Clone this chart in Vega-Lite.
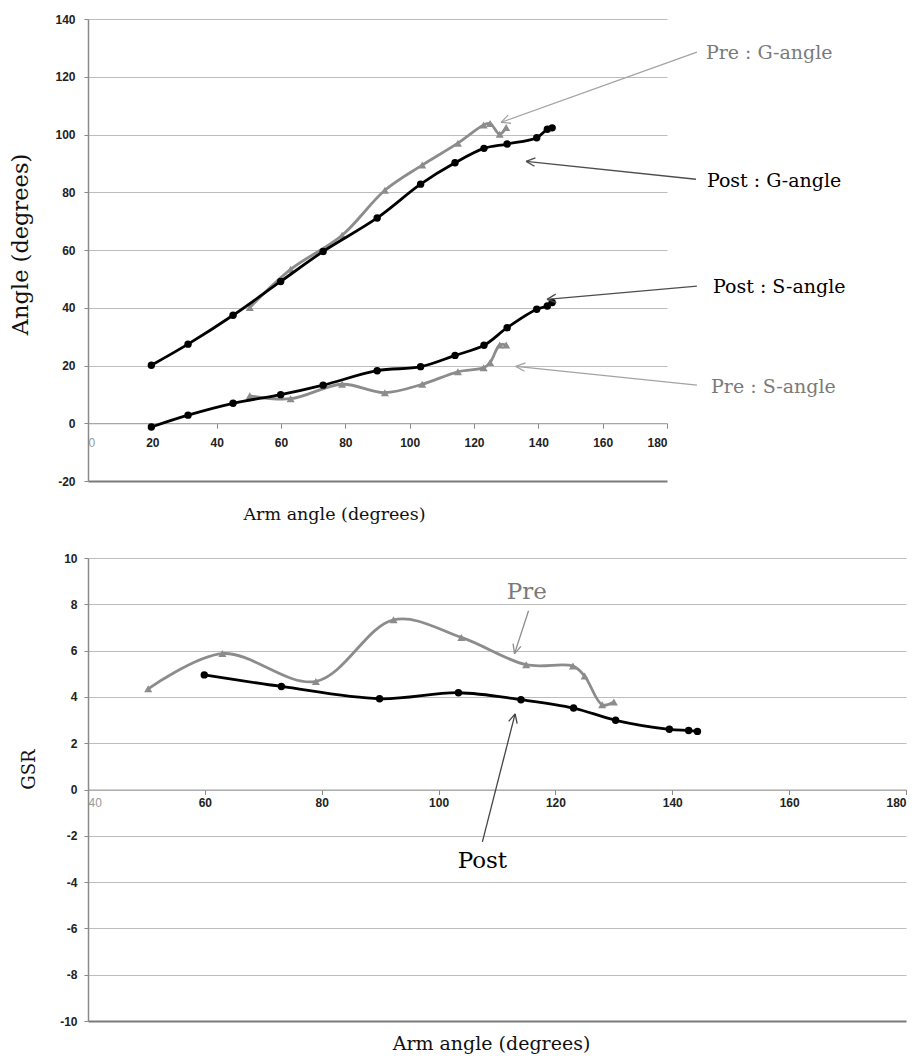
{
  "$schema": "https://vega.github.io/schema/vega-lite/v6.json",
  "padding": {"left": 9, "top": 13, "right": 5, "bottom": 5},
  "autosize": {"type": "pad"},
  "spacing": 29,
  "config": {
    "view": {"stroke": null},
    "axis": {
      "labelFont": "Liberation Sans",
      "labelFontSize": 12,
      "labelExpr": "'' + datum.value",
      "titleFont": "DejaVu Serif",
      "titleFontWeight": "normal",
      "titleColor": "#111",
      "domainColor": "#8a8a8a",
      "tickColor": "#8a8a8a"
    }
  },
  "datasets": {
    "angles": [
      {"x": 19.7, "y": 20.1, "series": "Post G", "phase": "Post"},
      {"x": 31.1, "y": 27.4, "series": "Post G", "phase": "Post"},
      {"x": 45.1, "y": 37.4, "series": "Post G", "phase": "Post"},
      {"x": 59.9, "y": 49.1, "series": "Post G", "phase": "Post"},
      {"x": 73.1, "y": 59.5, "series": "Post G", "phase": "Post"},
      {"x": 89.9, "y": 71.1, "series": "Post G", "phase": "Post"},
      {"x": 103.4, "y": 82.8, "series": "Post G", "phase": "Post"},
      {"x": 114.1, "y": 90.2, "series": "Post G", "phase": "Post"},
      {"x": 123.1, "y": 95.2, "series": "Post G", "phase": "Post"},
      {"x": 130.3, "y": 96.7, "series": "Post G", "phase": "Post"},
      {"x": 139.5, "y": 98.9, "series": "Post G", "phase": "Post"},
      {"x": 142.8, "y": 101.8, "series": "Post G", "phase": "Post"},
      {"x": 144.3, "y": 102.3, "series": "Post G", "phase": "Post"},
      {"x": 19.7, "y": -1.3, "series": "Post S", "phase": "Post"},
      {"x": 31.1, "y": 2.8, "series": "Post S", "phase": "Post"},
      {"x": 45.1, "y": 6.9, "series": "Post S", "phase": "Post"},
      {"x": 59.9, "y": 9.9, "series": "Post S", "phase": "Post"},
      {"x": 73.1, "y": 13.2, "series": "Post S", "phase": "Post"},
      {"x": 89.9, "y": 18.2, "series": "Post S", "phase": "Post"},
      {"x": 103.4, "y": 19.6, "series": "Post S", "phase": "Post"},
      {"x": 114.1, "y": 23.5, "series": "Post S", "phase": "Post"},
      {"x": 123.1, "y": 27.0, "series": "Post S", "phase": "Post"},
      {"x": 130.3, "y": 33.1, "series": "Post S", "phase": "Post"},
      {"x": 139.5, "y": 39.5, "series": "Post S", "phase": "Post"},
      {"x": 142.8, "y": 40.6, "series": "Post S", "phase": "Post"},
      {"x": 144.3, "y": 41.8, "series": "Post S", "phase": "Post"},
      {"x": 50.3, "y": 40.1, "series": "Pre G", "phase": "Pre"},
      {"x": 63.0, "y": 53.3, "series": "Pre G", "phase": "Pre"},
      {"x": 79.0, "y": 65.1, "series": "Pre G", "phase": "Pre"},
      {"x": 92.3, "y": 80.7, "series": "Pre G", "phase": "Pre"},
      {"x": 103.9, "y": 89.4, "series": "Pre G", "phase": "Pre"},
      {"x": 115.0, "y": 97.0, "series": "Pre G", "phase": "Pre"},
      {"x": 123.0, "y": 103.3, "series": "Pre G", "phase": "Pre"},
      {"x": 125.0, "y": 103.8, "series": "Pre G", "phase": "Pre"},
      {"x": 128.0, "y": 100.1, "series": "Pre G", "phase": "Pre"},
      {"x": 130.0, "y": 102.4, "series": "Pre G", "phase": "Pre"},
      {"x": 50.3, "y": 9.5, "series": "Pre S", "phase": "Pre"},
      {"x": 63.0, "y": 8.5, "series": "Pre S", "phase": "Pre"},
      {"x": 79.0, "y": 13.5, "series": "Pre S", "phase": "Pre"},
      {"x": 92.3, "y": 10.6, "series": "Pre S", "phase": "Pre"},
      {"x": 103.9, "y": 13.5, "series": "Pre S", "phase": "Pre"},
      {"x": 115.0, "y": 17.8, "series": "Pre S", "phase": "Pre"},
      {"x": 123.0, "y": 19.2, "series": "Pre S", "phase": "Pre"},
      {"x": 125.0, "y": 21.0, "series": "Pre S", "phase": "Pre"},
      {"x": 128.0, "y": 27.1, "series": "Pre S", "phase": "Pre"},
      {"x": 130.0, "y": 27.1, "series": "Pre S", "phase": "Pre"}
    ],
    "gsr": [
      {"x": 50.3, "y": 4.35, "phase": "Pre"},
      {"x": 63.0, "y": 5.87, "phase": "Pre"},
      {"x": 79.0, "y": 4.67, "phase": "Pre"},
      {"x": 92.3, "y": 7.33, "phase": "Pre"},
      {"x": 103.9, "y": 6.57, "phase": "Pre"},
      {"x": 115.0, "y": 5.39, "phase": "Pre"},
      {"x": 123.0, "y": 5.33, "phase": "Pre"},
      {"x": 125.0, "y": 4.9, "phase": "Pre"},
      {"x": 128.0, "y": 3.66, "phase": "Pre"},
      {"x": 130.0, "y": 3.78, "phase": "Pre"},
      {"x": 59.9, "y": 4.95, "phase": "Post"},
      {"x": 73.1, "y": 4.45, "phase": "Post"},
      {"x": 89.9, "y": 3.92, "phase": "Post"},
      {"x": 103.4, "y": 4.18, "phase": "Post"},
      {"x": 114.1, "y": 3.88, "phase": "Post"},
      {"x": 123.1, "y": 3.52, "phase": "Post"},
      {"x": 130.3, "y": 2.99, "phase": "Post"},
      {"x": 139.5, "y": 2.6, "phase": "Post"},
      {"x": 142.8, "y": 2.55, "phase": "Post"},
      {"x": 144.3, "y": 2.51, "phase": "Post"}
    ],
    "arrowsTop": [
      {"x": 189.3, "y": 128.5, "x2": 128.4, "y2": 104.2, "phase": "Pre"},
      {"x": 128.4, "y": 104.2, "x2": 131.5, "y2": 103.9, "phase": "Pre"},
      {"x": 128.4, "y": 104.2, "x2": 130.6, "y2": 106.7, "phase": "Pre"},
      {"x": 189.0, "y": 84.5, "x2": 136.2, "y2": 90.7, "phase": "Post"},
      {"x": 136.2, "y": 90.7, "x2": 138.8, "y2": 89.0, "phase": "Post"},
      {"x": 136.2, "y": 90.7, "x2": 139.1, "y2": 91.9, "phase": "Post"},
      {"x": 189.3, "y": 47.5, "x2": 142.7, "y2": 42.9, "phase": "Post"},
      {"x": 142.7, "y": 42.9, "x2": 145.6, "y2": 41.8, "phase": "Post"},
      {"x": 142.7, "y": 42.9, "x2": 145.4, "y2": 44.7, "phase": "Post"},
      {"x": 189.3, "y": 13.2, "x2": 133.0, "y2": 19.7, "phase": "Pre"},
      {"x": 133.0, "y": 19.7, "x2": 135.7, "y2": 18.0, "phase": "Pre"},
      {"x": 133.0, "y": 19.7, "x2": 136.0, "y2": 20.9, "phase": "Pre"}
    ],
    "labelsTop": [
      {"x": 192.1, "y": 128.1, "text": "Pre : G-angle", "phase": "Pre"},
      {"x": 192.4, "y": 83.8, "text": "Post : G-angle", "phase": "Post"},
      {"x": 194.3, "y": 47.1, "text": "Post : S-angle", "phase": "Post"},
      {"x": 193.7, "y": 12.5, "text": "Pre : S-angle", "phase": "Pre"}
    ],
    "arrowsBottom": [
      {"x": 115.4, "y": 7.72, "x2": 113.0, "y2": 5.87, "phase": "Pre"},
      {"x": 113.0, "y": 5.87, "x2": 114.1, "y2": 6.18, "phase": "Pre"},
      {"x": 113.0, "y": 5.87, "x2": 112.75, "y2": 6.3, "phase": "Pre"},
      {"x": 107.5, "y": -2.26, "x2": 113.1, "y2": 3.27, "phase": "Post"},
      {"x": 113.1, "y": 3.27, "x2": 112.0, "y2": 2.94, "phase": "Post"},
      {"x": 113.1, "y": 3.27, "x2": 113.45, "y2": 2.85, "phase": "Post"}
    ],
    "labelsBottom": [
      {"x": 115.1, "y": 8.54, "text": "Pre", "phase": "Pre"},
      {"x": 107.5, "y": -3.11, "text": "Post", "phase": "Post"}
    ]
  },
  "vconcat": [
    {
      "width": 579,
      "height": 462,
      "encoding": {
        "x": {
          "field": "x", "type": "quantitative",
          "scale": {"domain": [0, 180], "nice": false, "zero": false},
          "axis": {
            "values": [0, 20, 40, 60, 80, 100, 120, 140, 160, 180],
            "offset": -57.75, "grid": false, "tickSize": 5, "labelPadding": 9,
            "domainColor": "#a0a0a0",
            "labelColor": {"condition": {"test": "datum.value == 0", "value": "#999"}, "value": "#222"},
            "labelFontWeight": {"condition": {"test": "datum.value == 0", "value": "normal"}, "value": "bold"},
            "title": "Arm angle (degrees)", "titleFontSize": 17.5,
            "titleX": 246, "titleY": 91, "titleBaseline": "middle"
          }
        },
        "y": {
          "field": "y", "type": "quantitative",
          "scale": {"domain": [-20, 140], "nice": false, "zero": false},
          "axis": {
            "values": [-20, 0, 20, 40, 60, 80, 100, 120, 140],
            "tickSize": 4, "labelPadding": 9, "labelFontWeight": "bold", "labelColor": "#222",
            "domainWidth": 1.5,
            "grid": true,
            "gridColor": {"condition": {"test": "datum.value == -20", "value": "#7a7a7a"}, "value": "#bdbdbd"},
            "gridWidth": {"condition": {"test": "datum.value == -20", "value": 2}, "value": 1.2},
            "title": "Angle (degrees)", "titleFontSize": 22.5,
            "titleX": -68, "titleY": 225, "titleBaseline": "middle", "titleAngle": -90
          }
        }
      },
      "layer": [
        {
          "data": {"name": "angles"},
          "transform": [{"filter": "datum.phase === 'Pre'"}],
          "mark": {"type": "line", "interpolate": "catmull-rom", "color": "#8c8c8c", "strokeWidth": 2.8},
          "encoding": {"detail": {"field": "series"}}
        },
        {
          "data": {"name": "angles"},
          "transform": [{"filter": "datum.phase === 'Pre'"}],
          "mark": {"type": "point", "shape": "triangle-up", "filled": true, "color": "#8c8c8c", "size": 65, "opacity": 1},
          "encoding": {}
        },
        {
          "data": {"name": "angles"},
          "transform": [{"filter": "datum.phase === 'Post'"}],
          "mark": {"type": "line", "interpolate": "catmull-rom", "color": "#000000", "strokeWidth": 2.8},
          "encoding": {"detail": {"field": "series"}}
        },
        {
          "data": {"name": "angles"},
          "transform": [{"filter": "datum.phase === 'Post'"}],
          "mark": {"type": "point", "shape": "circle", "filled": true, "color": "#000000", "size": 55, "opacity": 1},
          "encoding": {}
        },
        {
          "data": {"name": "arrowsTop"},
          "transform": [{"filter": "datum.phase === 'Pre'"}],
          "mark": {"type": "rule", "color": "#a3a3a3", "strokeWidth": 1.3},
          "encoding": {"x2": {"field": "x2"}, "y2": {"field": "y2"}}
        },
        {
          "data": {"name": "arrowsTop"},
          "transform": [{"filter": "datum.phase === 'Post'"}],
          "mark": {"type": "rule", "color": "#4d4d4d", "strokeWidth": 1.3},
          "encoding": {"x2": {"field": "x2"}, "y2": {"field": "y2"}}
        },
        {
          "data": {"name": "labelsTop"},
          "transform": [{"filter": "datum.phase === 'Pre'"}],
          "mark": {"type": "text", "align": "left", "baseline": "middle", "font": "DejaVu Serif", "fontSize": 19, "color": "#7a7a7a"},
          "encoding": {"text": {"field": "text"}}
        },
        {
          "data": {"name": "labelsTop"},
          "transform": [{"filter": "datum.phase === 'Post'"}],
          "mark": {"type": "text", "align": "left", "baseline": "middle", "font": "DejaVu Serif", "fontSize": 19, "color": "#000000"},
          "encoding": {"text": {"field": "text"}}
        }
      ]
    },
    {
      "width": 818,
      "height": 463,
      "encoding": {
        "x": {
          "field": "x", "type": "quantitative",
          "scale": {"domain": [40, 180], "nice": false, "zero": false},
          "axis": {
            "values": [40, 60, 80, 100, 120, 140, 160, 180],
            "offset": -231.5, "grid": false, "tickSize": 5, "labelPadding": 3,
            "domainColor": "#a0a0a0",
            "labelColor": {"condition": {"test": "datum.value == 40", "value": "#999"}, "value": "#222"},
            "labelFontWeight": {"condition": {"test": "datum.value == 40", "value": "normal"}, "value": "bold"},
            "title": "Arm angle (degrees)", "titleFontSize": 19,
            "titleX": 403, "titleY": 254, "titleBaseline": "middle"
          }
        },
        "y": {
          "field": "y", "type": "quantitative",
          "scale": {"domain": [-10, 10], "nice": false, "zero": false},
          "axis": {
            "values": [-10, -8, -6, -4, -2, 0, 2, 4, 6, 8, 10],
            "tickSize": 4, "labelPadding": 7, "labelFontWeight": "bold", "labelColor": "#222",
            "domainWidth": 1.5,
            "grid": true,
            "gridColor": {"condition": {"test": "datum.value == -10", "value": "#7a7a7a"}, "value": "#bdbdbd"},
            "gridWidth": {"condition": {"test": "datum.value == -10", "value": 2}, "value": 1.2},
            "title": "GSR", "titleFontSize": 18,
            "titleX": -59, "titleY": 211, "titleBaseline": "middle", "titleAngle": -90
          }
        }
      },
      "layer": [
        {
          "data": {"name": "gsr"},
          "transform": [{"filter": "datum.phase === 'Pre'"}],
          "mark": {"type": "line", "interpolate": "catmull-rom", "color": "#8c8c8c", "strokeWidth": 2.8},
          "encoding": {}
        },
        {
          "data": {"name": "gsr"},
          "transform": [{"filter": "datum.phase === 'Pre'"}],
          "mark": {"type": "point", "shape": "triangle-up", "filled": true, "color": "#8c8c8c", "size": 65, "opacity": 1},
          "encoding": {}
        },
        {
          "data": {"name": "gsr"},
          "transform": [{"filter": "datum.phase === 'Post'"}],
          "mark": {"type": "line", "interpolate": "catmull-rom", "color": "#000000", "strokeWidth": 2.8},
          "encoding": {}
        },
        {
          "data": {"name": "gsr"},
          "transform": [{"filter": "datum.phase === 'Post'"}],
          "mark": {"type": "point", "shape": "circle", "filled": true, "color": "#000000", "size": 55, "opacity": 1},
          "encoding": {}
        },
        {
          "data": {"name": "arrowsBottom"},
          "transform": [{"filter": "datum.phase === 'Pre'"}],
          "mark": {"type": "rule", "color": "#8c8c8c", "strokeWidth": 1.3},
          "encoding": {"x2": {"field": "x2"}, "y2": {"field": "y2"}}
        },
        {
          "data": {"name": "arrowsBottom"},
          "transform": [{"filter": "datum.phase === 'Post'"}],
          "mark": {"type": "rule", "color": "#444444", "strokeWidth": 1.3},
          "encoding": {"x2": {"field": "x2"}, "y2": {"field": "y2"}}
        },
        {
          "data": {"name": "labelsBottom"},
          "transform": [{"filter": "datum.phase === 'Pre'"}],
          "mark": {"type": "text", "align": "center", "baseline": "middle", "font": "DejaVu Serif", "fontSize": 23, "color": "#7a7a7a"},
          "encoding": {"text": {"field": "text"}}
        },
        {
          "data": {"name": "labelsBottom"},
          "transform": [{"filter": "datum.phase === 'Post'"}],
          "mark": {"type": "text", "align": "center", "baseline": "middle", "font": "DejaVu Serif", "fontSize": 23, "color": "#000000"},
          "encoding": {"text": {"field": "text"}}
        }
      ]
    }
  ]
}
